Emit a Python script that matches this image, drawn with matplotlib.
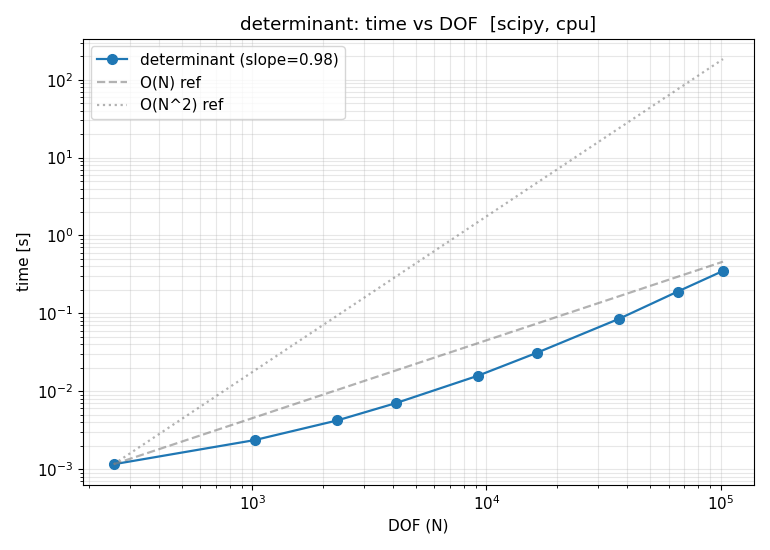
import matplotlib
matplotlib.use("Agg")
import matplotlib.pyplot as plt
import numpy as np

plt.rcParams["font.size"] = 11

dof = [256, 1024, 2304, 4096, 9216, 16384, 36864, 65536, 102400]
times = [1.15e-3, 2.35e-3, 4.2e-3, 7.0e-3, 1.58e-2, 3.1e-2, 8.5e-2, 0.19, 0.35]
slope = 0.98

N = np.array(dof, dtype=float)
t0 = times[0]
ref1 = t0 * (N / N[0])
ref2 = t0 * (N / N[0]) ** 2

fig, ax = plt.subplots(figsize=(7.7, 5.5), dpi=100)
ax.loglog(dof, times, "o-", color="#1f77b4", markersize=7, linewidth=1.6,
          label=f"determinant (slope={slope:.2f})")
ax.loglog(N, ref1, "--", color="gray", alpha=0.6, linewidth=1.6, label="O(N) ref")
ax.loglog(N, ref2, ":", color="gray", alpha=0.6, linewidth=1.6, label="O(N^2) ref")
ax.grid(True, which="both", alpha=0.3)
ax.set_xlabel("DOF (N)")
ax.set_ylabel("time [s]")
ax.set_title("determinant: time vs DOF  [scipy, cpu]")
ax.legend(loc="upper left")
fig.tight_layout()
fig.savefig("out.png", dpi=100)
